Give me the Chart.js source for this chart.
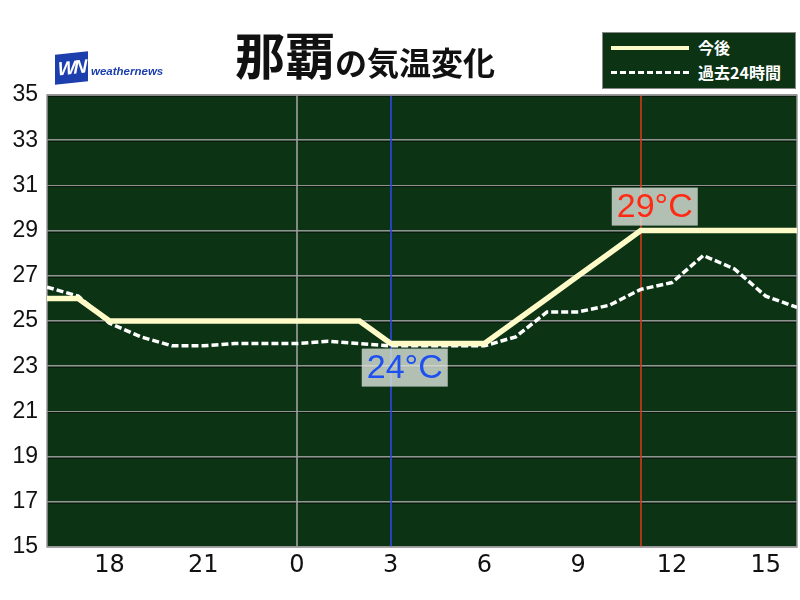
<!DOCTYPE html>
<html>
<head>
<meta charset="utf-8">
<script src="https://cdn.jsdelivr.net/npm/chart.js@4"></script>
<style>
  body { margin: 0; background: #fff; }
  #wrap { position: relative; width: 800px; height: 600px; }
  #tempChart { position: absolute; left: 0; top: 0; }
  .title { position: absolute; left: 235px; top: 17px; font-family: "Noto Sans CJK JP"; font-weight: bold; color: #111; white-space: nowrap; }
  .title .big { font-size: 50px; }
  .title .small { font-size: 32px; }
  .logo { position: absolute; left: 55px; top: 53px; width: 33px; height: 30px; background: #1d3fae;
          transform: skewY(-6deg); color: #fff; font: italic bold 19px "Liberation Sans"; line-height: 30px; text-align: center; letter-spacing: -2px; }
  .logo-text { position: absolute; left: 91px; top: 65px; font: italic bold 11.5px "Liberation Sans"; color: #1d3fae; }
  .legend { position: absolute; left: 602px; top: 32px; width: 192px; height: 55px; background: #0b3314; border: 1px solid #888; }
  .legend .row { position: absolute; left: 8px; height: 22px; width: 184px; }
  .legend .sample { position: absolute; left: 0; top: 10px; width: 78px; }
  .legend .lbl { position: absolute; left: 87px; top: 0; font: bold 16px "Noto Sans CJK JP"; color: #fff; line-height: 22px; }
</style>
</head>
<body>
<div id="wrap">
  <canvas id="tempChart" width="800" height="600"></canvas>
  <div class="title"><span class="big">那覇</span><span class="small">の気温変化</span></div>
  <div class="logo">WN</div>
  <div class="logo-text">weathernews</div>
  <div class="legend">
    <div class="row" style="top:3px"><div class="sample" style="border-top:4px solid #fffbc8"></div><div class="lbl">今後</div></div>
    <div class="row" style="top:28px"><div class="sample" style="border-top:3px dashed #fff"></div><div class="lbl">過去24時間</div></div>
  </div>
</div>
<script>
// hours counted from 0:00 of previous day (24 = 0時)
const hours = [16, 17, 18, 19, 20, 21, 22, 23, 24, 25, 26, 27, 28, 29, 30, 31, 32, 33, 34, 35, 36, 37, 38, 39, 40];
const forecastTemps = [26, 26, 25, 25, 25, 25, 25, 25, 25, 25, 25, 24, 24, 24, 24, 25, 26, 27, 28, 29, 29, 29, 29, 29, 29];
const pastTemps = [26.5, 26.1, 24.9, 24.3, 23.9, 23.9, 24.0, 24.0, 24.0, 24.1, 24.0, 23.9, 23.9, 23.9, 23.9, 24.3, 25.4, 25.4, 25.7, 26.4, 26.7, 27.9, 27.3, 26.1, 25.6];
const xTicks = [18, 21, 24, 27, 30, 33, 36, 39];
const yTicks = [15, 17, 19, 21, 23, 25, 27, 29, 31, 33, 35];

// vertical marker lines: day boundary, min time, max time
const markerHours = [24, 27, 35];
const markerColors = ['#a0a0a0', '#2a4ae8', '#d23a1c'];

// min / max labels
const labelHours = [27, 35];
const labelTemps = [24, 29];
const labelTexts = ['24°C', '29°C'];
const labelColors = ['#1e4ff0', '#ff2a14'];
const labelBelow = [true, false];

const plotBg = '#0b3314';

const chartDecor = {
    id: 'chartDecor',
    beforeDraw(chart) {
        const { ctx, chartArea: a } = chart;
        ctx.save();
        ctx.fillStyle = plotBg;
        ctx.fillRect(a.left, a.top, a.right - a.left, a.bottom - a.top);
        ctx.restore();
    },
    beforeDatasetsDraw(chart) {
        const { ctx, chartArea: a, scales } = chart;
        ctx.save();
        // dark shadow under each horizontal grid line
        ctx.strokeStyle = '#071a0b';
        ctx.lineWidth = 1;
        yTicks.forEach(v => {
            const y = Math.round(scales.y.getPixelForValue(v)) + 1.5;
            if (y < a.bottom - 1) {
                ctx.beginPath();
                ctx.moveTo(a.left, y);
                ctx.lineTo(a.right, y);
                ctx.stroke();
            }
        });
        markerHours.forEach((h, i) => {
            const x = Math.round(scales.x.getPixelForValue(h));
            ctx.strokeStyle = markerColors[i];
            ctx.lineWidth = 1.6;
            ctx.beginPath();
            ctx.moveTo(x, a.top);
            ctx.lineTo(x, a.bottom);
            ctx.stroke();
        });
        ctx.strokeStyle = '#9a9a9a';
        ctx.lineWidth = 1.5;
        ctx.strokeRect(a.left, a.top, a.right - a.left, a.bottom - a.top);
        ctx.restore();
    },
    afterDatasetsDraw(chart) {
        const { ctx, scales } = chart;
        ctx.save();
        ctx.font = '34px "Liberation Sans"';
        ctx.textBaseline = 'middle';
        ctx.textAlign = 'center';
        labelHours.forEach((h, i) => {
            const px = scales.x.getPixelForValue(h);
            const py = scales.y.getPixelForValue(labelTemps[i]);
            const w = 86, hgt = 38;
            const left = px - 29;
            const top = labelBelow[i] ? py + 5 : py - 5 - hgt;
            ctx.fillStyle = 'rgba(220,228,220,0.8)';
            ctx.fillRect(left, top, w, hgt);
            ctx.fillStyle = labelColors[i];
            ctx.fillText(labelTexts[i], left + w / 2, top + hgt / 2 + 1);
        });
        ctx.restore();
    }
};

const ctx = document.getElementById('tempChart').getContext('2d');
const chart = new Chart(ctx, {
    type: 'line',
    data: {
        datasets: [{
            label: '今後',
            data: hours.map((h, i) => ({ x: h, y: forecastTemps[i] })),
            borderColor: '#fffbc8',
            borderWidth: 5.5,
            pointRadius: 0,
            tension: 0,
            order: 1,
        }, {
            label: '過去24時間',
            data: hours.map((h, i) => ({ x: h, y: pastTemps[i] })),
            borderColor: '#ffffff',
            borderWidth: 3.5,
            borderDash: [7, 3],
            pointRadius: 0,
            tension: 0,
            order: 2,
        }],
    },
    options: {
        responsive: false,
        animation: false,
        layout: { padding: { top: 95, right: 3, left: 0, bottom: 0 } },
        plugins: {
            legend: { display: false },
            tooltip: { enabled: false },
        },
        scales: {
            x: {
                type: 'linear',
                min: 16,
                max: 40,
                afterBuildTicks: axis => { axis.ticks = xTicks.map(v => ({ value: v })); },
                afterFit: axis => { axis.height = 53; },
                grid: { display: false, drawTicks: false },
                border: { display: false },
                ticks: {
                    padding: 4,
                    color: '#111',
                    font: { family: '"Liberation Sans Narrow", "DejaVu Sans"', size: 24 },
                    callback: v => String(v % 24),
                },
            },
            y: {
                min: 15,
                max: 35,
                afterBuildTicks: axis => { axis.ticks = yTicks.map(v => ({ value: v })); },
                afterFit: axis => { axis.width = 47; },
                grid: { color: '#929292', lineWidth: 1.5, drawTicks: false },
                border: { display: false },
                ticks: {
                    padding: 9,
                    color: '#111',
                    font: { family: '"Liberation Sans"', size: 23 },
                },
            },
        },
    },
    plugins: [chartDecor],
});
</script>
</body>
</html>
